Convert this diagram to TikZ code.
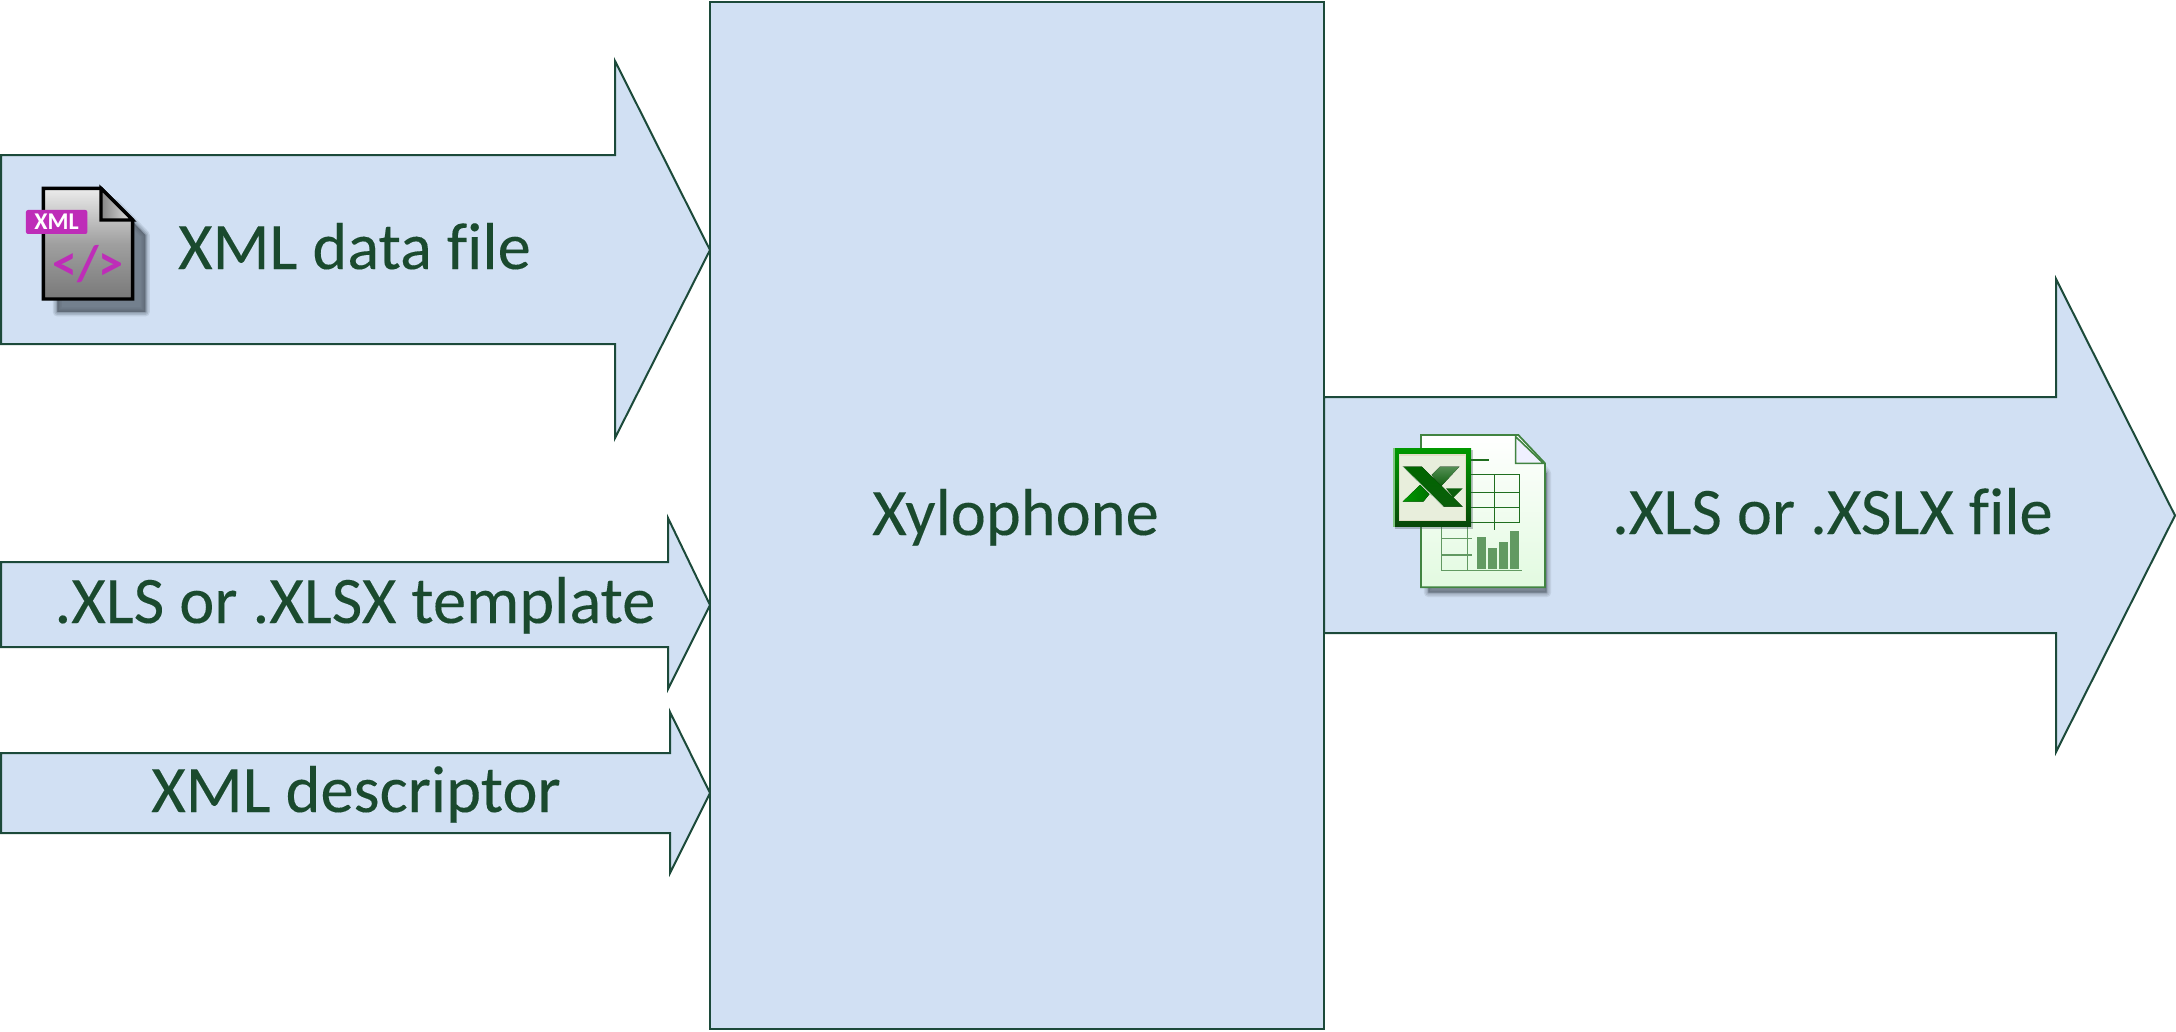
\documentclass[tikz,border=0pt]{standalone}
\usepackage{fontspec}
\setmainfont[Ligatures=NoCommon]{Carlito}
\newfontfamily\heavyface[Ligatures=NoCommon,FakeBold=0.15]{Carlito}
\definecolor{fillblue}{HTML}{D1E0F3}
\definecolor{edgegreen}{HTML}{1C4A3A}
\definecolor{textgreen}{HTML}{1A4A2E}
\definecolor{xmlpurple}{HTML}{BE2DB8}
\definecolor{shadowgrey}{HTML}{4F5A66}
\definecolor{xlgreen}{HTML}{1F6E1F}
\definecolor{xldark}{HTML}{0B5E0B}
\definecolor{xlpale}{HTML}{E2FAE0}
\definecolor{xlpanel}{HTML}{E8EEDC}
\tikzset{
  blockshape/.style={draw=edgegreen,fill=fillblue,line width=2pt,line join=miter},
  biglabel/.style={text=textgreen,font=\heavyface\fontsize{66.5}{66.5}\selectfont,anchor=base,inner sep=0pt},
  zoomxml/.style={shift={(0,150)},x=0.3333pt,y=-0.3333pt},
  zoomxl/.style={shift={(1370,410)},x=0.3333pt,y=-0.3333pt},
  gridline/.style={draw=xlgreen,line width=1.6pt},
  softgrid/.style={draw=xlgreen!70!white,line width=1.6pt},
  softedge/.style={shadowgrey,line join=round,fill=shadowgrey,draw=shadowgrey},
}
\begin{document}
\begin{tikzpicture}[x=1pt,y=-1pt]
\useasboundingbox (0,0) rectangle (2176,1031);
% arrows and central block
\draw[blockshape] (1,155) -- (615,155) -- (615,61) -- (710,250) -- (615,438) -- (615,344) -- (1,344) -- cycle;
\draw[blockshape] (1,562) -- (668,562) -- (668,518) -- (710,605) -- (668,689) -- (668,647) -- (1,647) -- cycle;
\draw[blockshape] (1,753) -- (670,753) -- (670,712) -- (710,793) -- (670,873) -- (670,833) -- (1,833) -- cycle;
\draw[blockshape] (1324,397) -- (2056,397) -- (2056,279) -- (2175,515.5) -- (2056,752) -- (2056,633) -- (1324,633) -- cycle;
\node[draw=edgegreen,fill=fillblue,line width=2pt,minimum width=614pt,minimum height=1027pt,anchor=north west,inner sep=0pt,outer sep=0pt] (core) at (710,2) {};
% labels
\node[biglabel] (coretext) at (1015.5,535) {Xylophone};
\node[biglabel] (xmldata) at (354.5,269) {XML data file};
\node[biglabel] (tmpl) at (355,623) {.XLS or .XLSX template};
\node[biglabel] (desc) at (356,812) {XML descriptor};
\node[biglabel] (outfile) at (1832.5,534) {.XLS or .XSLX file};
% XML icon
\begin{scope}[zoomxml]
  \foreach \w/\o in {9/0.14,6/0.18,3/0.25,0.1/0.45}{
    \draw[softedge,opacity=\o,line width=\w pt] (172,160) -- (345,160) -- (436,255) -- (436,486) -- (172,486) -- cycle;
  }
  \draw[black,line width=3.4pt,line join=miter,top color=gray!15!white,bottom color=gray!95!black,middle color=gray!75!white]
    (130,115) -- (303,115) -- (398,210) -- (398,447) -- (130,447) -- cycle;
  \draw[black,line width=3.2pt,line join=miter,left color=gray!95,right color=gray!20!white]
    (303,115) -- (303,210) -- (398,210) -- cycle;
  \fill[xmlpurple,rounded corners=2pt] (78,180) rectangle (262,252);
  \node[text=white,font=\bfseries\fontsize{24}{24}\selectfont,inner sep=0pt] (badge) at (170,216) {XML};
  \node[text=xmlpurple,font=\bfseries\fontsize{50}{50}\selectfont,inner sep=0pt] (tags) at (264,342) {</>};
\end{scope}
% Excel icon
\begin{scope}[zoomxl]
  \foreach \w/\o in {9/0.12,6/0.15,3/0.2,0.1/0.3}{
    \draw[softedge,opacity=\o,line width=\w pt] (175,110) -- (460,110) -- (530,190) -- (530,548) -- (175,548) -- cycle;
  }
  \draw[xlgreen!85!white,line width=1.8pt,line join=miter,top color=white,bottom color=xlpale]
    (153,75) -- (445,75) -- (525,160) -- (525,532) -- (153,532) -- cycle;
  \draw[xlgreen!85!white,line width=1.6pt,line join=miter,fill=blue!6!white]
    (437,80) -- (437,160) -- (520,160) -- cycle;
  % grid
  \draw[gridline] (300,150) -- (357,150);
  \draw[gridline] (300,193) -- (449,193) -- (449,337) -- (300,337);
  \draw[gridline] (300,248) -- (449,248);
  \draw[gridline] (300,293) -- (449,293);
  \draw[gridline] (373,193) -- (373,360);
  \draw[softgrid] (214,350) -- (214,481) -- (456,481);
  \draw[softgrid] (214,385) -- (307,385);
  \draw[softgrid] (214,435) -- (307,435);
  \draw[softgrid] (293,350) -- (293,481);
  \fill[xlgreen!70!white] (320,380) rectangle (349,477);
  \fill[xlgreen!70!white] (353,415) rectangle (382,477);
  \fill[xlgreen!70!white] (386,397) rectangle (415,477);
  \fill[xlgreen!70!white] (419,364) rectangle (448,477);
  % badge
  \fill[shadowgrey,opacity=0.35] (76,121) rectangle (310,356);
  \fill[top color=green!60!black,bottom color=xldark!75!black] (70,115) rectangle (303,350);
  \fill[green!55!black!50!white] (70,115) rectangle (76,350);
  \fill[xlpanel!85!brown] (87,133) rectangle (287,332);
  \fill[xlpanel] (91,137) rectangle (284,329);
  % X logo
  \fill[top color=xldark!70!white,bottom color=xldark] (185,195) -- (210,170) -- (268,170) -- (212,230) -- cycle;
  \fill[xldark] (228,235) -- (278,235) -- (250,263) -- cycle;
  \fill[left color=green!60!black,right color=green!45!black] (98,275) -- (150,225) -- (178,253) -- (160,275) -- cycle;
  \fill[top color=green!40!black,bottom color=xldark] (98,170) -- (155,170) -- (278,290) -- (220,290) -- cycle;
  \draw[white,opacity=0.7,line width=0.8pt] (98,170) -- (220,290);
\end{scope}
\end{tikzpicture}
\end{document}
